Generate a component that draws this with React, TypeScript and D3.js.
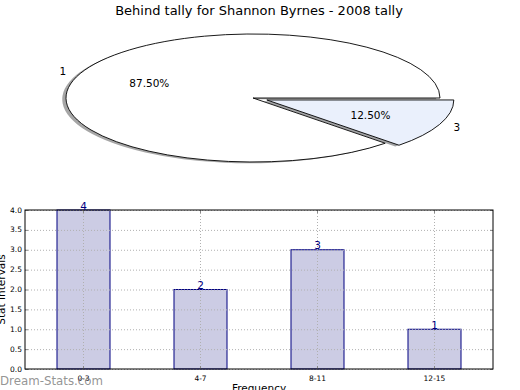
import * as d3 from "d3";

const title = "Behind tally for Shannon Byrnes - 2008 tally";

const pieLabels = ["1", "3"];
const pieValues = [7, 1];
const pieExplode = [0, 0.08];
const pieColors = ["#ffffff", "#eaf0fc"];

const barCategories = ["0-3", "4-7", "8-11", "12-15"];
const barValues = [4, 2, 3, 1];
const yTickValues = [0, 0.5, 1, 1.5, 2, 2.5, 3, 3.5, 4];

const W = 520;
const H = 390;
const font = "DejaVu Sans, sans-serif";

// pie geometry (matplotlib pie squashed into a wide axes)
const cx = 253;
const cy = 98;
const rx = 187;
const ry = 64;

// bar axes box
const plot = { left: 25, right: 493, top: 210, bottom: 369 };

function shade(color: string, k: number) {
  const c = d3.rgb(color);
  return d3.rgb(c.r * k, c.g * k, c.b * k).toString();
}

export default function App() {
  // start at 3 o'clock, go counterclockwise (d3 angles: 0 at 12 o'clock, clockwise)
  const pie = d3
    .pie<number>()
    .sort(null)
    .startAngle(Math.PI / 2)
    .endAngle(Math.PI / 2 - 2 * Math.PI);
  const arcs = pie(pieValues);
  const unitArc = d3.arc<d3.PieArcDatum<number>>().innerRadius(0).outerRadius(1);
  const total = d3.sum(pieValues);

  const slices = arcs.map((a, i) => {
    const mid = (a.startAngle + a.endAngle) / 2;
    const e = pieExplode[i];
    const ox = cx + Math.sin(mid) * e * rx;
    const oy = cy - Math.cos(mid) * e * ry;
    return {
      d: unitArc(a) ?? "",
      ox,
      oy,
      color: pieColors[i],
      label: pieLabels[i],
      pct: ((pieValues[i] / total) * 100).toFixed(2) + "%",
      lx: ox + Math.sin(mid) * 1.1 * rx,
      ly: oy - Math.cos(mid) * 1.1 * ry,
      px: ox + Math.sin(mid) * 0.6 * rx,
      py: oy - Math.cos(mid) * 0.6 * ry,
    };
  });

  const x = d3
    .scaleBand<string>()
    .domain(barCategories)
    .range([plot.left, plot.right])
    .paddingInner(0.547)
    .paddingOuter(0.2735);
  const y = d3.scaleLinear().domain([0, 4]).range([plot.bottom, plot.top]);
  const xc = (c: string) => (x(c) ?? 0) + x.bandwidth() / 2;

  return (
    <svg
      width={W}
      height={H}
      style={{ position: "absolute", left: 0, top: 0 }}
      fontFamily={font}
    >
      <rect width={W} height={H} fill="#ffffff" />
      <text x={259} y={14.5} textAnchor="middle" fontSize={13} fill="#000">
        {title}
      </text>

      {/* shadows */}
      {slices.map((s, i) => (
        <path
          key={"sh" + i}
          d={s.d}
          transform={`translate(${s.ox - 0.02 * rx},${s.oy + 0.02 * ry}) scale(${rx},${ry})`}
          fill={shade(s.color, 0.3)}
          fillOpacity={0.5}
        />
      ))}
      {slices.map((s, i) => (
        <path
          key={"w" + i}
          d={s.d}
          transform={`translate(${s.ox},${s.oy}) scale(${rx},${ry})`}
          fill={s.color}
          stroke="#000"
          strokeWidth={0.9}
          vectorEffect="non-scaling-stroke"
        />
      ))}
      {slices.map((s, i) => (
        <g key={"l" + i} fontSize={10.5} fill="#000">
          <text x={s.lx} y={s.ly} textAnchor="middle" dominantBaseline="central">
            {s.label}
          </text>
          <text x={s.px} y={s.py} textAnchor="middle" dominantBaseline="central">
            {s.pct}
          </text>
        </g>
      ))}

      {/* bars */}
      {barCategories.map((c, i) => (
        <rect
          key={c}
          x={x(c)}
          y={y(barValues[i])}
          width={x.bandwidth()}
          height={y(0) - y(barValues[i])}
          fill="#ccccE4"
          stroke="#000080"
          strokeWidth={1}
        />
      ))}

      {/* grid */}
      <g stroke="#b0b0b0" strokeWidth={1} strokeDasharray="1,2">
        {yTickValues.map((t) => (
          <line key={"gy" + t} x1={plot.left} x2={plot.right} y1={y(t) + 0.5} y2={y(t) + 0.5} />
        ))}
        {barCategories.map((c) => (
          <line key={"gx" + c} x1={xc(c)} x2={xc(c)} y1={plot.top} y2={plot.bottom} />
        ))}
      </g>

      {/* ticks */}
      <g stroke="#888" strokeWidth={1}>
        {yTickValues.map((t) => (
          <g key={"ty" + t}>
            <line x1={plot.left} x2={plot.left + 3} y1={y(t) + 0.5} y2={y(t) + 0.5} />
            <line x1={plot.right - 3} x2={plot.right} y1={y(t) + 0.5} y2={y(t) + 0.5} />
          </g>
        ))}
        {barCategories.map((c) => (
          <g key={"tx" + c}>
            <line x1={xc(c)} x2={xc(c)} y1={plot.bottom - 3} y2={plot.bottom} />
            <line x1={xc(c)} x2={xc(c)} y1={plot.top} y2={plot.top + 3} />
          </g>
        ))}
      </g>

      <rect
        x={plot.left}
        y={plot.top}
        width={plot.right - plot.left}
        height={plot.bottom - plot.top}
        fill="none"
        stroke="#000"
        strokeWidth={1}
      />

      {/* value labels */}
      {barCategories.map((c, i) => (
        <text
          key={"v" + c}
          x={xc(c)}
          y={y(barValues[i]) - 0.5}
          textAnchor="middle"
          fontSize={10.5}
          fill="#000080"
        >
          {barValues[i]}
        </text>
      ))}

      {/* tick labels */}
      {yTickValues.map((t) => (
        <text
          key={"yl" + t}
          x={plot.left - 3}
          y={y(t)}
          textAnchor="end"
          dominantBaseline="central"
          fontSize={7.5}
          fill="#000"
        >
          {t.toFixed(1)}
        </text>
      ))}
      {barCategories.map((c) => (
        <text key={"xl" + c} x={xc(c)} y={381} textAnchor="middle" fontSize={7.5} fill="#000">
          {c}
        </text>
      ))}

      <text x={259} y={392} textAnchor="middle" fontSize={10.5} fill="#000">
        Frequency
      </text>
      <text
        transform={`translate(5,${(plot.top + plot.bottom) / 2}) rotate(-90)`}
        textAnchor="middle"
        fontSize={10.5}
        fill="#000"
      >
        Stat Intervals
      </text>

      <text x={0} y={385} fontSize={11.8} fill="#888" fillOpacity={0.9}>
        Dream-Stats.com
      </text>
    </svg>
  );
}
